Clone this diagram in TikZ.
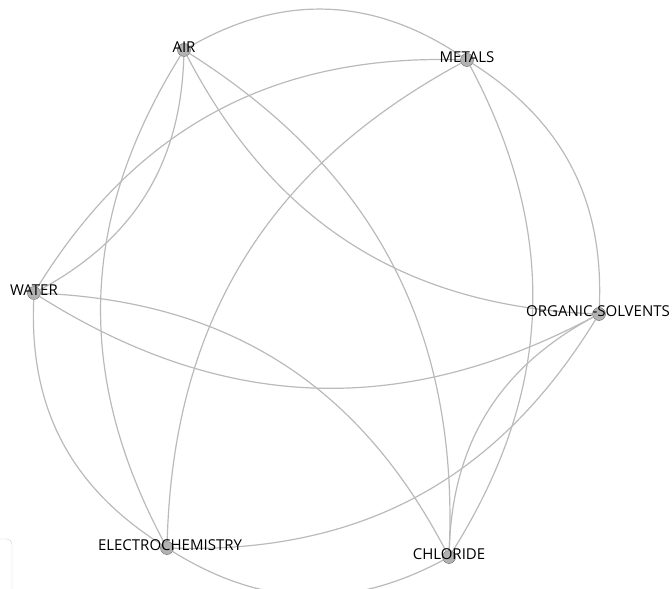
\documentclass[tikz,border=0pt]{standalone}
\usepackage{fontspec}
\setmainfont{Open Sans}
\begin{document}
\begin{tikzpicture}[x=1pt, y=1pt]

        % Area del disegno, come il riferimento (672 x 589)
        \useasboundingbox (0,0) rectangle (672,589);
        \clip (0,0) rectangle (672,589);

        % Stili per cerchi, archi ed etichette
        \tikzset{
            nodo/.style={circle, inner sep=0pt, minimum size=13pt, fill=gray!60, draw=gray!75!black, line width=0.4pt},
            arco/.style={draw=black!27, line width=1.2pt},
            etichetta/.style={font=\fontsize{15}{17}\selectfont, text=black, inner sep=0pt}
        }

        % Cerchi dei nodi
        \node[nodo] (air)      at (184,539) {};
        \node[nodo] (metals)   at (467,529) {};
        \node[nodo] (water)    at (34,296)  {};
        \node[nodo] (organic)  at (599,275) {};
        \node[nodo] (electro)  at (167,41)  {};
        \node[nodo] (chloride) at (449,32)  {};

        % Archi: ogni coppia di nodi, angolo positivo = curva a sinistra
        \foreach \a/\b/\ang in {air/metals/32, metals/organic/30, organic/chloride/-30,
                                electro/chloride/-30, water/electro/-30, water/air/-30,
                                air/electro/-30, air/chloride/30, air/organic/-30,
                                water/metals/30, metals/electro/-30, metals/chloride/30,
                                water/organic/-30, water/chloride/30, organic/electro/30} {
            \draw[arco] (\a) to[bend left=\ang] (\b);
        }

        % Etichette sopra i cerchi
        \node[etichetta] (lair)      at ([yshift=3pt]air)      {AIR};
        \node[etichetta] (lmetals)   at ([yshift=3pt]metals)   {METALS};
        \node[etichetta] (lwater)    at ([yshift=3pt]water)    {WATER};
        \node[etichetta] (lorganic)  at ([xshift=-1pt, yshift=3pt]organic) {ORGANIC-SOLVENTS};
        \node[etichetta] (lelectro)  at ([xshift=3pt, yshift=3pt]electro) {ELECTROCHEMISTRY};
        \node[etichetta] (lchloride) at ([yshift=3pt]chloride) {CHLORIDE};

        % Riquadro tagliato in basso a sinistra
        \draw[black!20, rounded corners=5pt] (-20,-10) rectangle (12,50);

\end{tikzpicture}
\end{document}
